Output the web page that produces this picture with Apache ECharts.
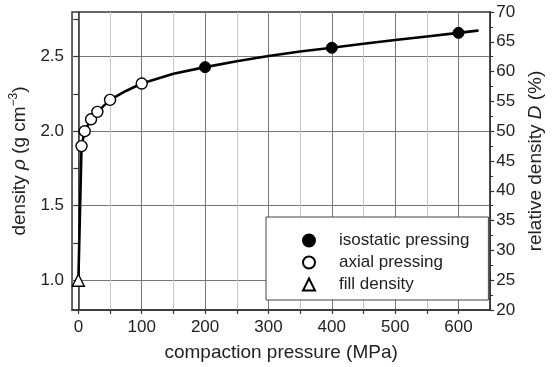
<!DOCTYPE html>
<html>
<head>
<meta charset="utf-8">
<script src="https://cdn.jsdelivr.net/npm/echarts@6/dist/echarts.min.js"></script>
<style>
html,body{margin:0;padding:0;background:#fff;}
#c{width:553px;height:367px;}
</style>
</head>
<body>
<div id="c"></div>
<script>
// ---- data ----
var isostaticPressure = [200, 400, 600];
var isostaticDensity = [2.43, 2.56, 2.66];
var axialPressure = [5, 10, 20, 30, 50, 100];
var axialDensity = [1.90, 2.00, 2.08, 2.13, 2.21, 2.32];
var fillPressure = [0];
var fillDensity = [1.0];
var curvePressure = [0, 5, 10, 20, 30, 50, 75, 100, 150, 200, 250, 300, 350, 400, 450, 500, 550, 600, 630];
var curveDensity = [1.0, 1.9, 2.0, 2.08, 2.13, 2.21, 2.27, 2.32, 2.385, 2.43, 2.47, 2.505, 2.535, 2.56, 2.587, 2.612, 2.636, 2.66, 2.675];
var xTickValues = [0, 50, 100, 150, 200, 250, 300, 350, 400, 450, 500, 550, 600];
var xLabelValues = [0, 100, 200, 300, 400, 500, 600];
var yTickValues = [1.0, 1.25, 1.5, 1.75, 2.0, 2.25, 2.5, 2.75];
var yLabelValues = [1.0, 1.5, 2.0, 2.5];
var legendNames = ['isostatic pressing', 'axial pressing', 'fill density'];

function pairs(xs, ys) { return xs.map(function (x, i) { return [x, ys[i]]; }); }

var FONT = 'Liberation Sans';
var TXT = '#222';
var chart = echarts.init(document.getElementById('c'), null, {renderer: 'canvas'});
var option = {
  animation: false,
  backgroundColor: '#fff',
  grid: {left: 67, right: 54, top: 12, bottom: 53, show: true, borderColor: '#333', borderWidth: 1.5, backgroundColor: 'transparent'},
  legend: {
    data: legendNames,
    orient: 'vertical',
    left: 266, top: 217,
    padding: [15, 19, 7, 36],
    itemGap: 5,
    itemWidth: 12, itemHeight: 12,
    backgroundColor: '#fff',
    borderColor: '#444', borderWidth: 1,
    z: 10,
    textStyle: {fontFamily: FONT, fontSize: 17, color: TXT, padding: [0, 0, 0, 19]}
  },
  xAxis: {
    type: 'value', min: -10, max: 650,
    name: 'compaction pressure (MPa)', nameLocation: 'middle', nameGap: 33,
    nameTextStyle: {fontFamily: FONT, fontSize: 19, color: TXT},
    axisLine: {show: true, lineStyle: {color: '#333', width: 1.5}},
    axisTick: {show: true, inside: false, length: 4, customValues: xTickValues, lineStyle: {color: '#333', width: 1.2}},
    axisLabel: {customValues: xLabelValues, margin: 9, fontFamily: FONT, fontSize: 17, color: TXT},
    splitLine: {show: true, lineStyle: {color: ['#777', '#c8c8c8'], width: 1}}
  },
  yAxis: [
    {
      type: 'value', min: 0.8, max: 2.8, position: 'left',
      name: '{n|density }{i|ρ}{n| (g cm}{s|−3}{n|)}',
      nameLocation: 'middle', nameRotate: 90, nameGap: 38,
      nameTextStyle: {fontFamily: FONT, fontSize: 19, color: TXT,
        rich: {
          n: {fontFamily: FONT, fontSize: 19, color: TXT, lineHeight: 24},
          i: {fontFamily: FONT, fontSize: 19, color: TXT, fontStyle: 'italic', lineHeight: 24},
          s: {fontFamily: FONT, fontSize: 12, color: TXT, verticalAlign: 'top', lineHeight: 14}
        }},
      axisLine: {show: true, lineStyle: {color: '#333', width: 1.5}},
      axisTick: {show: true, inside: false, length: 5, customValues: yTickValues, lineStyle: {color: '#333', width: 1.2}},
      axisLabel: {customValues: yLabelValues, margin: 8, fontFamily: FONT, fontSize: 17, color: TXT,
        formatter: function (v) { return v.toFixed(1); }},
      splitLine: {show: true, lineStyle: {color: ['#777', 'rgba(0,0,0,0)'], width: 1}}
    },
    {
      type: 'value', min: 20, max: 70, interval: 5, position: 'right',
      name: '{n|relative density }{i|D}{n| (%)}',
      nameLocation: 'middle', nameRotate: 90, nameGap: 31,
      nameTextStyle: {fontFamily: FONT, fontSize: 19, color: TXT,
        rich: {
          n: {fontFamily: FONT, fontSize: 19, color: TXT},
          i: {fontFamily: FONT, fontSize: 19, color: TXT, fontStyle: 'italic'}
        }},
      axisLine: {show: true, lineStyle: {color: '#333', width: 1.5}},
      axisTick: {show: true, inside: false, length: 4, lineStyle: {color: '#333', width: 1.2}},
      minorTick: {show: true, splitNumber: 2, length: 3, lineStyle: {color: '#333', width: 1}},
      axisLabel: {margin: 6, fontFamily: FONT, fontSize: 17, color: TXT},
      splitLine: {show: false}
    }
  ],
  series: [
    {
      name: 'fit', type: 'line', yAxisIndex: 0,
      data: pairs(curvePressure, curveDensity),
      showSymbol: false, smooth: false,
      lineStyle: {color: '#000', width: 2.6, join: 'round', cap: 'round'}, z: 2, silent: true
    },
    {
      name: legendNames[0], type: 'scatter', yAxisIndex: 0,
      data: pairs(isostaticPressure, isostaticDensity),
      symbol: 'circle', symbolSize: 11,
      itemStyle: {color: '#000', borderColor: '#000', borderWidth: 1, opacity: 1}, z: 3
    },
    {
      name: legendNames[1], type: 'scatter', yAxisIndex: 0,
      data: pairs(axialPressure, axialDensity),
      symbol: 'circle', symbolSize: 11,
      itemStyle: {color: '#fff', borderColor: '#000', borderWidth: 1.4, opacity: 1}, z: 3
    },
    {
      name: legendNames[2], type: 'scatter', yAxisIndex: 0,
      data: pairs(fillPressure, fillDensity),
      symbol: 'triangle', symbolSize: 12,
      itemStyle: {color: '#fff', borderColor: '#000', borderWidth: 1.4, opacity: 1}, z: 3
    }
  ]
};
chart.setOption(option);
</script>
</body>
</html>
